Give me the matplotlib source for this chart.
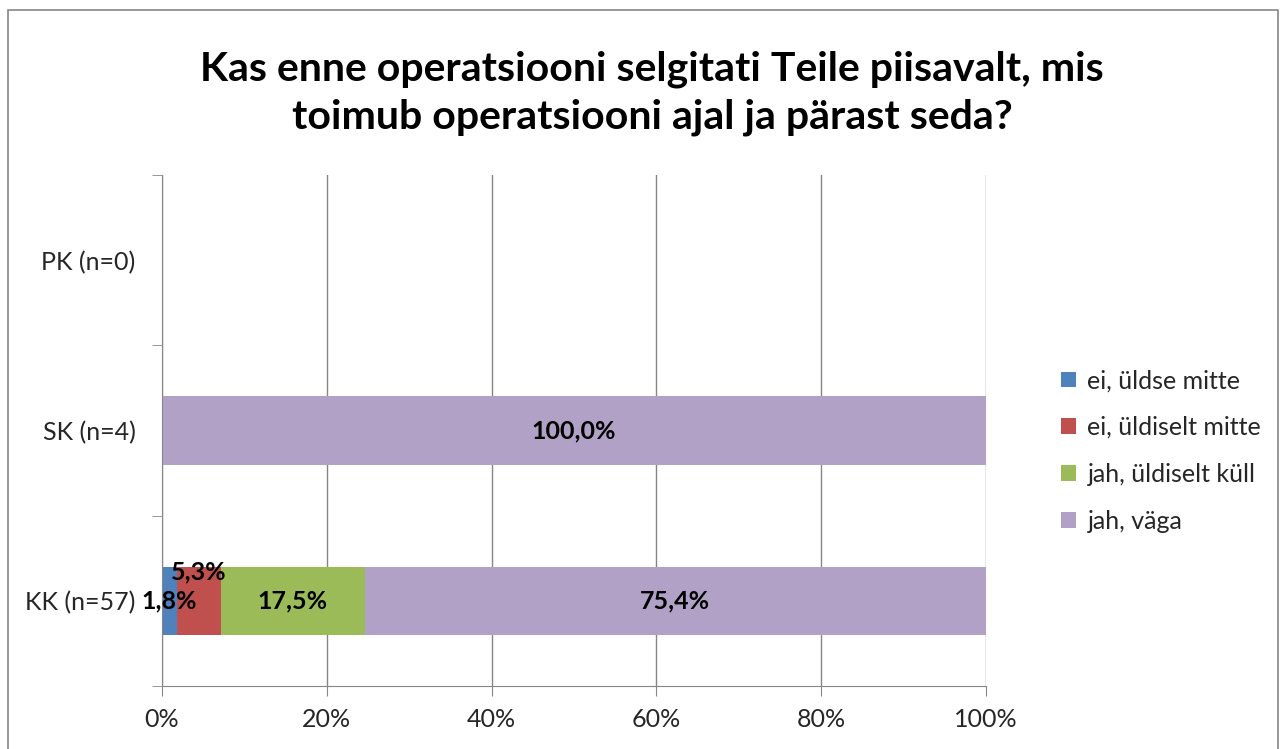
import matplotlib
matplotlib.use("Agg")
import matplotlib.pyplot as plt
from matplotlib.patches import Rectangle
import numpy as np

plt.rcParams['font.family'] = ['Lato', 'DejaVu Sans']

categories = ["KK (n=57)", "SK (n=4)", "PK (n=0)"]
series_names = ["ei, üldse mitte", "ei, üldiselt mitte", "jah, üldiselt küll", "jah, väga"]
values = {
    "ei, üldse mitte":    [1.8, 0.0, 0.0],
    "ei, üldiselt mitte": [5.3, 0.0, 0.0],
    "jah, üldiselt küll": [17.5, 0.0, 0.0],
    "jah, väga":          [75.4, 100.0, 0.0],
}
colors = ["#4F81BD", "#C0504D", "#9BBB59", "#B2A1C7"]
title = "Kas enne operatsiooni selgitati Teile piisavalt, mis\ntoimub operatsiooni ajal ja pärast seda?"

fig = plt.figure(figsize=(12.84, 7.49), dpi=100)
fig.patches.append(Rectangle((8/1284, -0.01), 1270/1284, 1 - 10/749 + 0.01,
                             transform=fig.transFigure, fill=False,
                             edgecolor="#868686", linewidth=1.2))
ax = fig.add_axes([162/1284, 1 - 686/749, (986 - 162)/1284, (686 - 175)/749])

y = np.arange(len(categories))
left = np.zeros(len(categories))
for name, col in zip(series_names, colors):
    v = np.array(values[name])
    ax.barh(y, v, left=left, height=0.4, color=col, label=name, zorder=3)
    for i, val in enumerate(v):
        if val > 0:
            dy = 0
            if name == "ei, üldiselt mitte":
                dy = 0.17
            ax.text(left[i] + val / 2, y[i] + dy, f"{val:.1f}%".replace(".", ","),
                    ha="center", va="center", fontsize=18, fontweight="bold",
                    color="black", zorder=5)
    left += v

ax.set_xlim(0, 100)
ax.set_ylim(-0.5, 2.5)
ax.set_xticks(np.arange(0, 101, 20))
ax.set_xticklabels([f"{t}%" for t in range(0, 101, 20)], fontsize=18, color="#262626")
ax.set_yticks(y)
ax.set_yticklabels(categories, fontsize=18, color="#262626")
ax.tick_params(axis="y", which="major", length=0, pad=19)
ax.set_yticks([-0.5, 0.5, 1.5, 2.5], minor=True)
ax.tick_params(axis="y", which="minor", length=7, color="#868686")
ax.tick_params(axis="x", length=7, color="#868686", pad=9)
ax.grid(axis="x", color="#868686", linewidth=1, zorder=0)
for s in ["top", "right"]:
    ax.spines[s].set_visible(False)
for s in ["left", "bottom"]:
    ax.spines[s].set_color("#868686")
    ax.spines[s].set_zorder(4)

fig.text(652/1284, 1 - 93/749, title, ha="center", va="center",
         fontsize=29.5, fontweight="bold", color="black", linespacing=1.35)

leg = ax.legend(loc="center left", bbox_to_anchor=(1.064, 0.46), frameon=False,
                fontsize=18, handlelength=0.6, handleheight=0.6,
                handletextpad=0.45, labelspacing=0.95)
for t in leg.get_texts():
    t.set_color("#262626")

fig.savefig("out.png", dpi=100)
